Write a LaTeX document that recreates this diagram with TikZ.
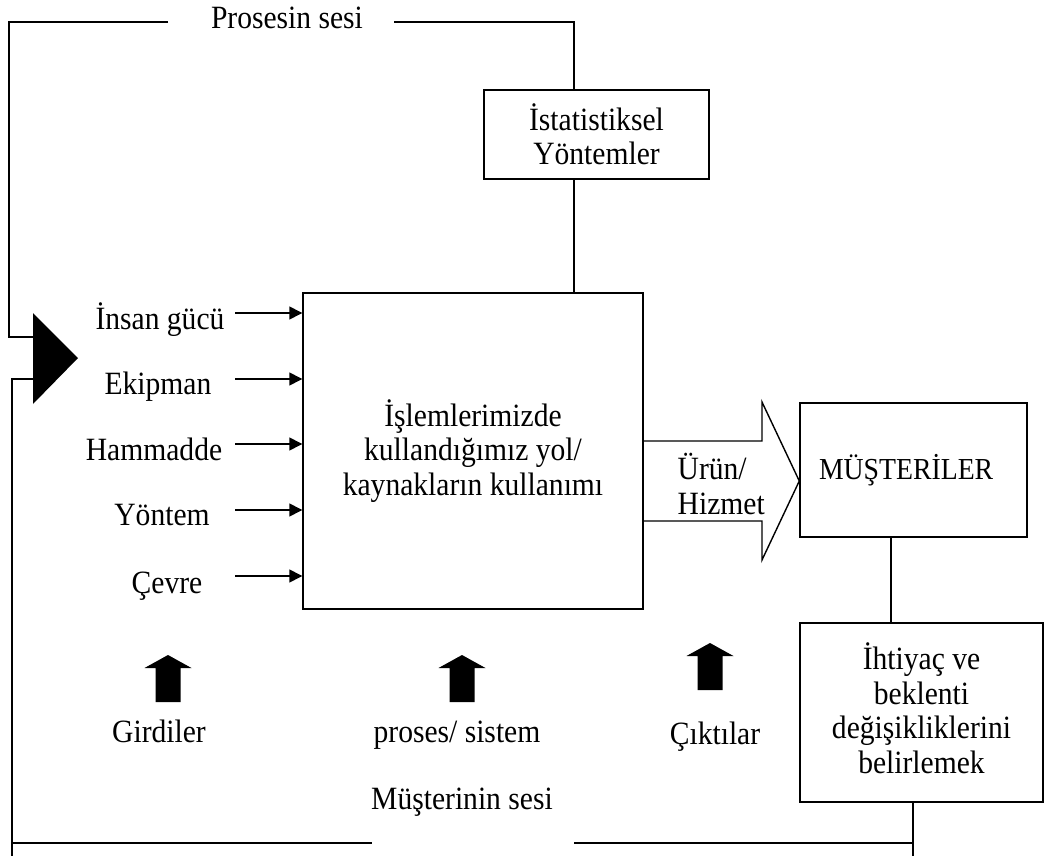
\documentclass[tikz,border=0pt]{standalone}
\usepackage{fontspec}
\setmainfont{Liberation Serif}[FakeStretch=0.91]
\usetikzlibrary{arrows.meta}
\begin{document}
\begin{tikzpicture}[x=1pt, y=-1pt, line width=1.4pt,
  txt/.style={font=\fontsize{32.5}{34.5}\selectfont},
  lbl/.style={txt, inner sep=0pt, text height=21pt, text depth=7pt},
  box/.style={draw, txt, inner sep=0pt, align=center},
  inarrow/.style={-{Triangle[length=13pt,width=13pt]}},
  upblock/.pic={\fill (0,0) -- (23.5,13) -- (12.5,13) -- (12.5,47)
                 -- (-12.5,47) -- (-12.5,13) -- (-23.5,13) -- cycle;}]
\useasboundingbox (0,0) rectangle (1045,856);

% boxes
\node[box, minimum width=340pt, minimum height=316pt] (proc) at (473,451)
  {İşlemlerimizde\\kullandığımız yol/\\kaynakların kullanımı};
\node[box, minimum width=225pt, minimum height=89pt] (stat) at (596.5,134.5)
  {İstatistiksel\\Yöntemler};
\node[box, minimum width=227pt, minimum height=134pt, inner xsep=19pt,
      text width=189pt, align=left, font=\fontsize{30.5}{34}\selectfont]
  (cust) at (913.5,470) {MÜŞTERİLER};
\node[box, minimum width=243pt, minimum height=179pt] (need) at (921.5,712.5) {};
\node[txt, inner sep=0pt, align=center] (needt) at (921.5,708)
  {İhtiyaç ve\\beklenti\\değişikliklerini\\belirlemek};

% inputs
\node[lbl] (in1) at (160,322) {İnsan gücü};
\node[lbl] (in2) at (158,387) {Ekipman};
\node[lbl] (in3) at (154,453) {Hammadde};
\node[lbl] (in4) at (162,518) {Yöntem};
\node[lbl] (in5) at (167,586) {Çevre};
\coordinate (a1) at (235,313);
\coordinate (a2) at (235,379);
\coordinate (a3) at (235,444);
\coordinate (a4) at (235,510);
\coordinate (a5) at (235,576);
\foreach \i in {1,...,5} \draw[inarrow] (a\i) -- (a\i -| proc.west);

% feedback junction
\coordinate (tt) at (33,313);
\coordinate (tb) at (33,404);
\coordinate (tp) at (78,358);
\fill (tt) -- (tp) -- (tb) -- cycle;

% voice of the process
\node[lbl] (pv) at (287,22) {Prosesin sesi};
\coordinate (sx) at (574,22);
\draw (stat.north -| sx) -- (sx) -- (394,22);
\draw (168,22) -- (9,22) -- (9,337) -- (tt |- 0,337);
\draw (stat.south -| sx) -- (proc.north -| sx);

% voice of the customer
\node[lbl] (cv) at (462,802) {Müşterinin sesi};
\coordinate (bx) at (913,843);
\draw (tt |- 0,379) -- (12,379) -- (12,856);
\draw (12,843) -- (372,843);
\draw (574,843) -- (bx);
\draw (need.south -| bx) -- (bx |- 0,856);
\coordinate (cx) at (891,0);
\draw (cust.south -| cx) -- (need.north -| cx);

% output arrow
\draw[line join=miter] (proc.east |- 0,441) -- (762,441) -- (762,402)
  -- (cust.west |- 0,481) -- (762,560) -- (762,521) -- (proc.east |- 0,521);
\node[txt, inner sep=0pt, align=left, anchor=west] (out) at (677,484)
  {Ürün/\\Hizmet};

% stage labels
\pic at (168,655) {upblock};
\pic at (462,655) {upblock};
\pic at (710,643) {upblock};
\node[lbl] (g1) at (159,735) {Girdiler};
\node[lbl] (g2) at (457,735) {proses/ sistem};
\node[lbl] (g3) at (715,737) {Çıktılar};
\end{tikzpicture}
\end{document}
